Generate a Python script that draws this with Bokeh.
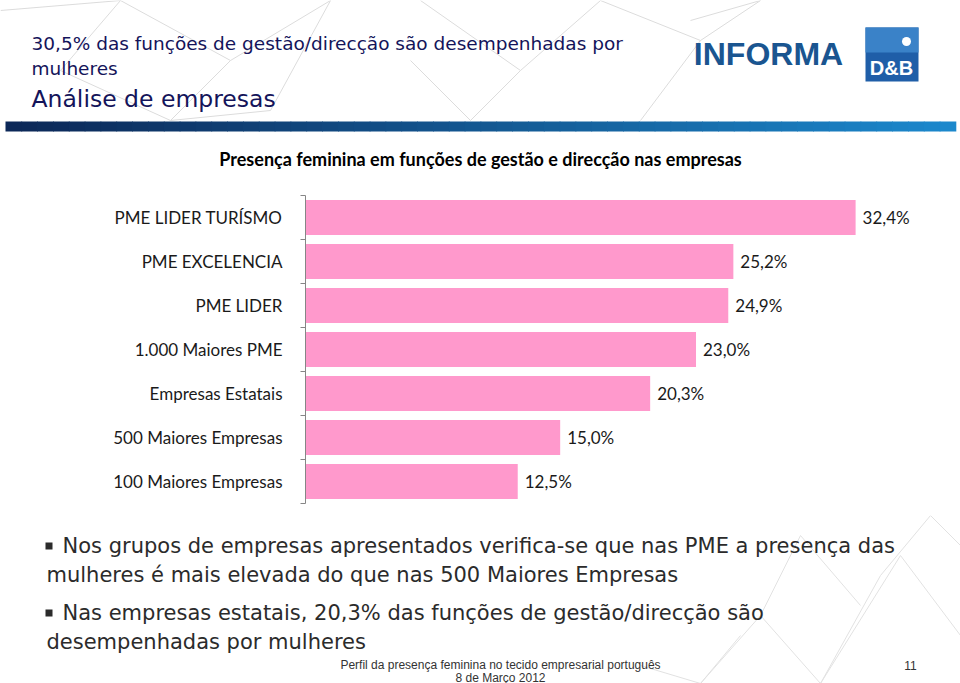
from bokeh.plotting import figure
from bokeh.models import FixedTicker, Range1d, ColumnDataSource
from bokeh.layouts import column
from bokeh.embed import file_html
from bokeh.resources import INLINE
from bokeh.core.properties import value

# ---- data ----
categories = ["100 Maiores Empresas", "500 Maiores Empresas", "Empresas Estatais",
              "1.000 Maiores PME", "PME LIDER", "PME EXCELENCIA", "PME LIDER TURÍSMO"]
values = [12.5, 15.0, 20.3, 23.0, 24.9, 25.2, 32.4]
value_labels = [f"{v:.1f}".replace(".", ",") + "%" for v in values]

title_line1 = "30,5% das funções de gestão/direcção são desempenhadas por"
title_line2 = "mulheres"
subtitle = "Análise de empresas"
chart_title = "Presença feminina em funções de gestão e direcção nas empresas"
bullets = [
    ("Nos grupos de empresas apresentados verifica-se que nas PME a presença das",
     "mulheres é mais elevada do que nas 500 Maiores Empresas"),
    ("Nas empresas estatais, 20,3% das funções de gestão/direcção  são",
     "desempenhadas por mulheres"),
]
footer1 = "Perfil da presença feminina no tecido empresarial português"
footer2 = "8 de Março 2012"
page_no = "11"

W = 960
H_HEAD, H_CHART, H_FOOT = 180, 335, 168


def deco_fig(h):
    f = figure(width=W, height=h, output_backend="svg", toolbar_location=None,
               x_range=Range1d(0, W), y_range=Range1d(h, 0),
               min_border=0, min_border_left=0, min_border_right=0,
               min_border_top=0, min_border_bottom=0, frame_align=False)
    f.axis.visible = False
    f.grid.visible = False
    f.outline_line_color = None
    f.background_fill_color = "white"
    f.border_fill_color = "white"
    return f


def txt(f, s, x, y, size, font="DejaVu Sans", color="#000000", align="left", style="normal"):
    f.text(x=[x], y=[y], text=[s], text_font=value(font), text_font_size=size,
           text_color=color, text_align=align, text_baseline="middle",
           text_font_style=style)


# ---------------- header ----------------
head = deco_fig(H_HEAD)
net = "#dcdcdc"
head.multi_line(xs=[[0, 120, 60], [120, 230, 170], [230, 330, 270], [60, 170, 270],
                    [420, 520, 600], [520, 470, 410], [600, 700, 640], [700, 760, 690]],
                ys=[[10, 0, 70], [0, 60, 120], [60, 0, 110], [70, 120, 110],
                    [0, 70, 0], [70, 120, 60], [0, 40, 120], [40, 0, 20]],
                line_color=net, line_width=1)
navy = "#14145a"
txt(head, title_line1, 31, 43, "18.5px", color=navy)
txt(head, title_line2, 31, 68, "18.5px", color=navy)
txt(head, subtitle, 31, 98, "23.5px", color=navy)

n = 60
c0 = (12, 40, 88)
c1 = (28, 136, 204)
bx0, bx1 = 5, 955
lefts = [bx0 + (bx1 - bx0) * i / n for i in range(n)]
rights = [bx0 + (bx1 - bx0) * (i + 1) / n + 0.8 for i in range(n)]
cols = ["#%02x%02x%02x" % tuple(int(a + (b - a) * (i / (n - 1))) for a, b in zip(c0, c1))
        for i in range(n)]
head.quad(left=lefts, right=rights, top=[121] * n, bottom=[131] * n,
          fill_color=cols, line_color=None)

txt(head, "INFORMA", 768, 53, "32px", font="Liberation Sans", color="#1a5590",
    align="center", style="bold")
head.quad(left=[865], right=[918], top=[27], bottom=[81], fill_color="#1f5ea8", line_color=None)
head.quad(left=[865], right=[918], top=[27], bottom=[52], fill_color="#3a82c8", line_color=None)
head.scatter(x=[906], y=[41], size=9, marker="circle", fill_color="white", line_color=None)
txt(head, "D&B", 891, 67, "20px", font="Liberation Sans", color="white",
    align="center", style="bold")

txt(head, chart_title, 480, 158, "18px", font="Lato", color="#000000",
    align="center", style="bold")

# ---------------- chart ----------------
FL, FR = 305, 940
p = figure(width=W, height=H_CHART, output_backend="svg", toolbar_location=None,
           x_range=Range1d(0, 37.4), y_range=Range1d(-0.5, len(categories) - 0.5),
           min_border_left=FL, min_border_right=W - FR,
           min_border_top=15, min_border_bottom=12, frame_align=False)
p.background_fill_color = "white"
p.border_fill_color = "white"
p.outline_line_color = None
p.xgrid.visible = False
p.ygrid.visible = False
p.xaxis.visible = False

ys = list(range(len(categories)))
src = ColumnDataSource(dict(y=ys, v=values, lab=value_labels))
p.hbar(y="y", right="v", left=0, height=0.8, source=src,
       fill_color="#FF99CC", line_color=None)
p.text(x="v", y="y", text="lab", source=src, x_offset=7,
       text_baseline="middle", text_align="left",
       text_font=value("Lato"), text_font_size="17px", text_color="#1a1a1a")

yax = p.yaxis[0]
yax.ticker = FixedTicker(ticks=ys, minor_ticks=[i - 0.5 for i in range(len(categories) + 1)])
yax.major_label_overrides = {i: c for i, c in zip(ys, categories)}
yax.major_tick_out = 0
yax.major_tick_in = 0
yax.minor_tick_out = 5
yax.minor_tick_in = 0
yax.minor_tick_line_color = "#868686"
yax.axis_line_color = "#868686"
yax.major_label_standoff = 18
yax.major_label_text_font = "Lato"
yax.major_label_text_font_size = "17px"
yax.major_label_text_color = "#1a1a1a"

# ---------------- bullets / footer ----------------
foot = deco_fig(H_FOOT)
foot.multi_line(xs=[[700, 760, 820, 880], [760, 800, 860], [820, 900, 960], [880, 930, 960],
                    [640, 700, 740]],
                ys=[[168, 100, 168, 60], [100, 20, 90], [168, 40, 120], [60, 0, 30],
                    [150, 168, 120]],
                line_color="#e2e2e2", line_width=1)
bcol = "#2b2b2b"
y_off = H_HEAD + H_CHART
for (l1, l2), (y1, y2) in zip(bullets, [(545, 574), (612, 641)]):
    foot.quad(left=[45], right=[52], top=[y1 - 3 - y_off], bottom=[y1 + 4 - y_off],
              fill_color=bcol, line_color=None)
    txt(foot, l1, 62, y1 - y_off, "21px", color=bcol)
    txt(foot, l2, 46, y2 - y_off, "21px", color=bcol)

txt(foot, footer1, 500, 664 - y_off, "12px", font="Liberation Sans", color="#333333", align="center")
txt(foot, footer2, 500, 677 - y_off, "12px", font="Liberation Sans", color="#333333", align="center")
txt(foot, page_no, 910, 665 - y_off, "12px", font="Liberation Sans", color="#333333", align="center")

layout = column(head, p, foot, spacing=0)
open("out.html", "w").write(file_html(layout, INLINE))
